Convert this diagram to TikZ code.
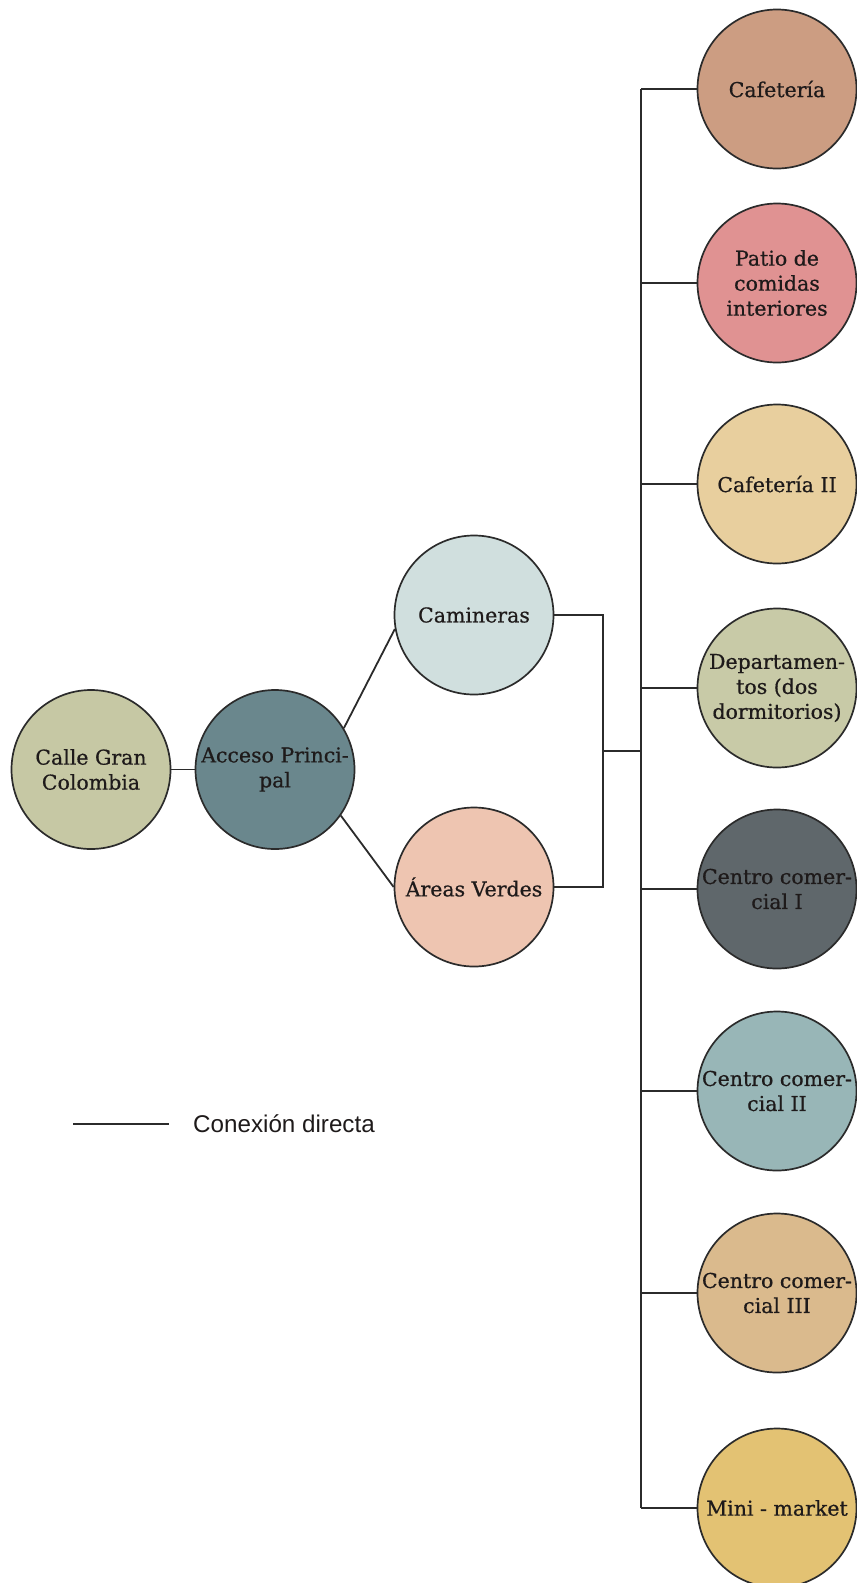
\documentclass[tikz,border=0pt]{standalone}
\usepackage{fontspec}
\setmainfont{DejaVu Serif}[RawFeature={embolden=0.6}]
\newfontfamily\legendfont{Liberation Sans}
\begin{document}
\definecolor{inkc}{HTML}{1E1A1A}
\definecolor{linec}{HTML}{2B2B2B}
\definecolor{cCalle}{HTML}{C6C8A4}
\definecolor{cAcceso}{HTML}{6A878D}
\definecolor{cCamin}{HTML}{D0DFDE}
\definecolor{cAreas}{HTML}{EEC5B1}
\definecolor{cCaf}{HTML}{CC9D82}
\definecolor{cPatio}{HTML}{E09292}
\definecolor{cCafB}{HTML}{E8CF9E}
\definecolor{cDepto}{HTML}{C8CAA7}
\definecolor{cCcA}{HTML}{5F676B}
\definecolor{cCcB}{HTML}{98B6B7}
\definecolor{cCcC}{HTML}{DABA8D}
\definecolor{cMini}{HTML}{E3C273}
\begin{tikzpicture}[x=1pt,y=-1pt,
  area/.style={circle, draw=linec, line width=1.7pt, minimum size=159pt, inner sep=0pt},
  lbl/.style={align=center, text=inkc, inner sep=0pt,
    font=\fontsize{20.5}{25}\selectfont},
  conn/.style={draw=linec, line width=1.8pt}]
\useasboundingbox (0,0) rectangle (857,1583);

% left branch
\node[area, fill=cCalle, label={[lbl]center:Calle Gran\\Colombia}] (calle) at (91,769.5) {};
\node[area, fill=cAcceso, label={[lbl]center:Acceso Princi-\\pal}] (acceso) at (275,769.5) {};
\node[area, fill=cCamin, label={[lbl]center:Camineras}] (camin) at (474,615) {};
\node[area, fill=cAreas, label={[lbl]center:Áreas Verdes}] (areas) at (474,887) {};

% right column
\node[area, fill=cCaf, label={[lbl]center:Cafetería}] (caf) at (777,89) {};
\node[area, fill=cPatio, label={[lbl]center:Patio de\\comidas\\interiores}] (patio) at (777,283) {};
\node[area, fill=cCafB, label={[lbl]center:Cafetería II}] (cafb) at (777,484) {};
\node[area, fill=cDepto, label={[lbl]center:Departamen-\\tos (dos\\dormitorios)}] (depto) at (777,688) {};
\node[area, fill=cCcA, label={[lbl]center:Centro comer-\\cial I}] (cca) at (777,889) {};
\node[area, fill=cCcB, label={[lbl]center:Centro comer-\\cial II}] (ccb) at (777,1091) {};
\node[area, fill=cCcC, label={[lbl]center:Centro comer-\\cial III}] (ccc) at (777,1293) {};
\node[area, fill=cMini, label={[lbl]center:Mini - market}] (mini) at (777,1508) {};

% junction points
\coordinate (jl) at (603,751);
\coordinate (jr) at (641,751);

% connectors
\draw[conn] (calle.east) -- (acceso.west);
\draw[conn] (acceso.31) -- (camin.190);
\draw[conn] (acceso.-35) -- (areas.west);
\draw[conn] (camin.east) -| (jl) |- (areas.east);
\draw[conn] (jl) -- (jr);
\draw[conn] (jr |- caf.west) -- (jr |- mini.west);
\foreach \n in {caf,patio,cafb,depto,cca,ccb,ccc,mini}
  \draw[conn] (jr |- \n.west) -- (\n.west);

% legend
\coordinate (lgA) at (73,1124);
\coordinate (lgB) at (169,1124);
\draw[conn, line width=1.6pt] (lgA) -- (lgB);
\node[anchor=west, inner sep=0pt, text=inkc, font=\legendfont\fontsize{24.2}{29}\selectfont] (lgtxt) at (193,1124) {Conexión directa};
\end{tikzpicture}
\end{document}
